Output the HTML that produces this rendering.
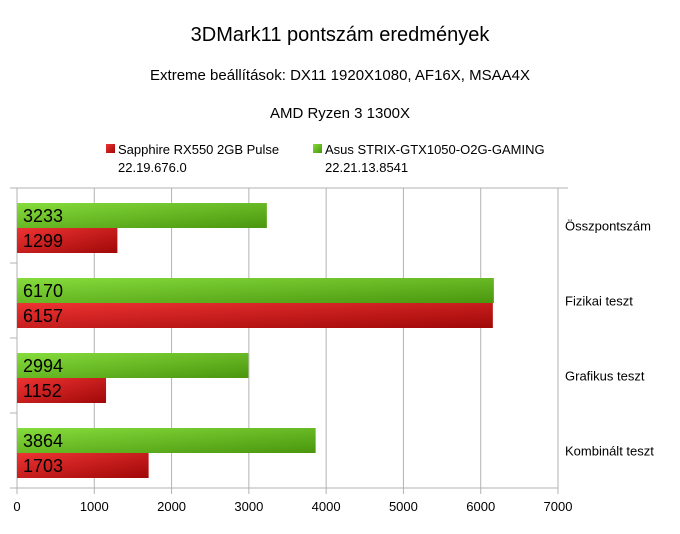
<!DOCTYPE html>
<html><head><meta charset="utf-8"><style>
body{margin:0;background:#fff;font-family:"Liberation Sans",sans-serif;}
</style></head><body>
<svg width="680" height="529" xmlns="http://www.w3.org/2000/svg" font-family="Liberation Sans, sans-serif">
<defs>
<linearGradient id="gg" x1="0" y1="0" x2="1" y2="1"><stop offset="0" stop-color="#86dc3c"/><stop offset="1" stop-color="#4a960e"/></linearGradient>
<linearGradient id="rg" x1="0" y1="0" x2="1" y2="1"><stop offset="0" stop-color="#ee3333"/><stop offset="1" stop-color="#a00808"/></linearGradient>
</defs>
<text x="340" y="41" text-anchor="middle" font-size="20">3DMark11 pontszám eredmények</text>
<text x="340" y="80" text-anchor="middle" font-size="15">Extreme beállítások: DX11 1920X1080, AF16X, MSAA4X</text>
<text x="340" y="118" text-anchor="middle" font-size="15">AMD Ryzen 3 1300X</text>
<g>
<rect x="106" y="144" width="9" height="9" fill="url(#rg)"/>
<text x="118" y="154" font-size="13">Sapphire RX550 2GB Pulse</text>
<text x="118" y="172" font-size="13">22.19.676.0</text>
<rect x="313" y="144" width="9" height="9" fill="url(#gg)"/>
<text x="325" y="154" font-size="13">Asus STRIX-GTX1050-O2G-GAMING</text>
<text x="325" y="172" font-size="13">22.21.13.8541</text>
</g>
<g id="plot"></g>
</svg>
<script>
const categories=["Összpontszám","Fizikai teszt","Grafikus teszt","Kombinált teszt"];
const asusValues=[3233,6170,2994,3864];
const sapphireValues=[1299,6157,1152,1703];
const ticks=[0,1000,2000,3000,4000,5000,6000,7000];
const X0=17,X1=558,Y0=188,Y1=488,MAX=7000;
const xs=v=>X0+(X1-X0)*v/MAX;
const band=(Y1-Y0)/categories.length;
const ns="http://www.w3.org/2000/svg";
const g=document.getElementById('plot');
function mk(t,a){const e=document.createElementNS(ns,t);for(const k in a)e.setAttribute(k,a[k]);g.appendChild(e);return e;}
let e=mk('line',{x1:10,y1:Y0,x2:568,y2:Y0,stroke:'#b3b3b3'});


ticks.forEach(t=>{
  const l=mk('line',{x1:xs(t),y1:Y0,x2:xs(t),y2:Y1+6,stroke:'#b3b3b3'});
  
  
  const tx=mk('text',{x:xs(t),y:Y1+23,'text-anchor':'middle','font-size':13});
  tx.textContent=t;
  
  
});
e=mk('line',{x1:10,y1:Y1,x2:X1,y2:Y1,stroke:'#b3b3b3'});


for(let i=0;i<=categories.length;i++){
  const t=mk('line',{x1:10,y1:Y0+i*band,x2:X0,y2:Y0+i*band,stroke:'#b3b3b3'});
  
  
}
categories.forEach((c,i)=>{
  const top=Y0+i*band+15,bh=25;
  const b1=mk('rect',{x:X0,y:top,width:xs(asusValues[i])-X0,height:bh,fill:'url(#gg)'});
  
  
  const b2=mk('rect',{x:X0,y:top+bh,width:xs(sapphireValues[i])-X0,height:bh,fill:'url(#rg)'});
  
  
  const t1=mk('text',{x:X0+6,y:top+19,'font-size':18});
  t1.textContent=asusValues[i];
  
  
  const t2=mk('text',{x:X0+6,y:top+bh+19,'font-size':18});
  t2.textContent=sapphireValues[i];
  
  
  const cl=mk('text',{x:565,y:Y0+i*band+band/2+5,'font-size':13});
  cl.textContent=c;
  
  
});
</script>
</body></html>
